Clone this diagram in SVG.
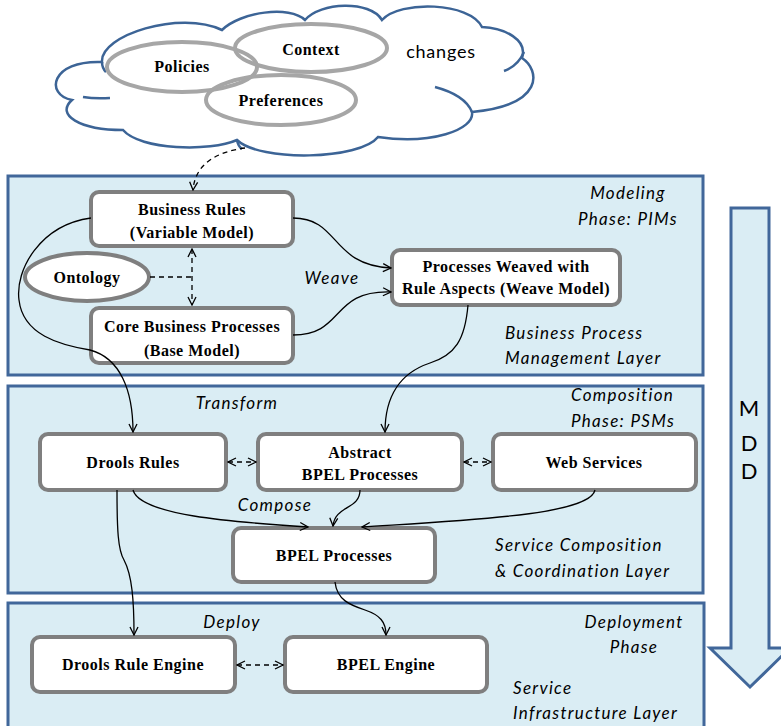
<svg xmlns="http://www.w3.org/2000/svg" width="781" height="726" viewBox="0 0 781 726">
<defs>
<marker id="ah" viewBox="0 0 10 10" refX="9" refY="5" markerWidth="10" markerHeight="10" markerUnits="userSpaceOnUse" orient="auto-start-reverse">
<path d="M1 1 L9 5 L1 9" fill="none" stroke="#000" stroke-width="1.3"/>
</marker>
<style>
.panel{fill:#daedf4;stroke:#41679a;stroke-width:3}
.node{fill:#fff;stroke:#7f7f7f;stroke-width:4}
.ell{fill:none;stroke:#a6a6a6;stroke-width:4}
.nt{font-family:"Liberation Serif",serif;font-weight:bold;font-size:16px;letter-spacing:0.5px;text-anchor:middle;fill:#000}
.lb{font-family:Lato,"Liberation Sans",sans-serif;font-style:italic;font-size:17px;letter-spacing:1.3px;fill:#000}
.cn{fill:none;stroke:#000;stroke-width:1.3}
.dash{stroke-dasharray:5 4}
</style>
</defs>
<rect width="781" height="726" fill="#fff"/>
<g id="cloud">
<path d="M102 62 C100 35 180 10 222 30 C240 12 290 5 305 20 C320 2 370 0 382 20 C400 0 470 2 482 27 C505 28 528 40 522 58 C540 70 545 105 472 112 C475 130 430 145 378 137 C360 160 260 162 237 140 C210 152 140 150 123 130 C80 130 55 115 72 100 C45 95 50 60 102 62 Z" fill="#fff" stroke="#3c6496" stroke-width="2.5"/>
<path d="M83 97 Q95 99 110 98 M524 52 Q518 66 504 71 M435 87 Q465 95 472 112 M237 140 Q238 146 242 149 M102 62 Q102 68 106 72" fill="none" stroke="#3c6496" stroke-width="2.5"/>
<text x="441" y="58" font-family="Lato,'Liberation Sans',sans-serif" font-size="18" letter-spacing="0.8" text-anchor="middle">changes</text>
</g>
<g id="policies"><ellipse class="ell" cx="182" cy="67" rx="75" ry="25"/><text class="nt" x="182" y="72">Policies</text></g>
<g id="context"><ellipse class="ell" cx="311" cy="48" rx="76" ry="24"/><text class="nt" x="311" y="55">Context</text></g>
<g id="preferences"><ellipse class="ell" cx="281" cy="100" rx="75" ry="25"/><text class="nt" x="281" y="106">Preferences</text></g>

<g id="panel-modeling"><rect class="panel" x="8" y="176" width="695" height="199"/>
<text class="lb" x="628" y="199" text-anchor="middle">Modeling</text>
<text class="lb" x="628" y="225" text-anchor="middle">Phase: PIMs</text>
<text class="lb" x="505" y="339">Business Process</text>
<text class="lb" x="505" y="364">Management Layer</text>
<text class="lb" x="332" y="284" text-anchor="middle">Weave</text>
</g>
<g id="panel-composition"><rect class="panel" x="8" y="386" width="695" height="207"/>
<text class="lb" x="571" y="401">Composition</text>
<text class="lb" x="571" y="427">Phase: PSMs</text>
<text class="lb" x="495" y="551">Service Composition</text>
<text class="lb" x="495" y="577">&amp; Coordination Layer</text>
<text class="lb" x="237" y="409" text-anchor="middle">Transform</text>
<text class="lb" x="275" y="511" text-anchor="middle">Compose</text>
</g>
<g id="panel-deployment"><rect class="panel" x="8" y="603" width="696" height="130"/>
<text class="lb" x="634" y="628" text-anchor="middle">Deployment</text>
<text class="lb" x="634" y="653" text-anchor="middle">Phase</text>
<text class="lb" x="513" y="694">Service</text>
<text class="lb" x="513" y="719">Infrastructure Layer</text>
<text class="lb" x="232" y="628" text-anchor="middle">Deploy</text>
</g>
<g id="mdd">
<path d="M731 208 L769 208 L769 648 L790 648 L750 687 L710 648 L731 648 Z" fill="#daedf4" stroke="#41679a" stroke-width="3"/>
<g font-family="Lato,'Liberation Sans',sans-serif" font-size="22" text-anchor="middle"><text x="749" y="416">M</text><text x="749" y="451">D</text><text x="749" y="479">D</text></g>
</g>

<g id="business-rules"><rect class="node" x="91" y="192" width="202" height="54" rx="8"/><text class="nt" x="192" y="215">Business Rules</text><text class="nt" x="192" y="238">(Variable Model)</text></g>
<g id="ontology"><ellipse cx="87" cy="277" rx="62" ry="24" fill="#fff" stroke="#7f7f7f" stroke-width="4"/><text class="nt" x="87" y="283">Ontology</text></g>
<g id="core-business"><rect class="node" x="91" y="308" width="202" height="55" rx="8"/><text class="nt" x="192" y="332">Core Business Processes</text><text class="nt" x="192" y="356">(Base Model)</text></g>
<g id="weave-model"><rect class="node" x="392" y="250" width="228" height="55" rx="8"/><text class="nt" x="506" y="272">Processes Weaved with</text><text class="nt" x="506" y="294">Rule Aspects (Weave Model)</text></g>
<g id="drools-rules"><rect class="node" x="40" y="434" width="186" height="56" rx="8"/><text class="nt" x="133" y="468">Drools Rules</text></g>
<g id="abstract-bpel"><rect class="node" x="258" y="434" width="204" height="56" rx="8"/><text class="nt" x="360" y="458">Abstract</text><text class="nt" x="360" y="480">BPEL Processes</text></g>
<g id="web-services"><rect class="node" x="493" y="434" width="203" height="56" rx="8"/><text class="nt" x="594" y="468">Web Services</text></g>
<g id="bpel-processes"><rect class="node" x="233" y="528" width="202" height="54" rx="8"/><text class="nt" x="334" y="561">BPEL Processes</text></g>
<g id="drools-engine"><rect class="node" x="32" y="637" width="203" height="55" rx="8"/><text class="nt" x="133" y="670">Drools Rule Engine</text></g>
<g id="bpel-engine"><rect class="node" x="285" y="637" width="202" height="55" rx="8"/><text class="nt" x="386" y="670">BPEL Engine</text></g>

<g id="connectors">
<path class="cn dash" d="M245 148 C215 152 195 165 193 190" marker-end="url(#ah)"/>
<path class="cn dash" d="M192 249 L192 305" marker-start="url(#ah)" marker-end="url(#ah)"/>
<path class="cn dash" d="M150 277 L192 277"/>
<path class="cn" d="M293 218 C340 218 330 265 391 268" marker-end="url(#ah)"/>
<path class="cn" d="M293 335 C345 335 330 290 391 292" marker-end="url(#ah)"/>
<path class="cn" d="M91 218 C40 225 15 270 19 300 C23 335 60 345 90 350 C120 358 133 390 133 432" marker-end="url(#ah)"/>
<path class="cn" d="M468 305 C465 340 455 355 430 363 C400 373 385 395 385 432" marker-end="url(#ah)"/>
<path class="cn dash" d="M228 462 L256 462" marker-start="url(#ah)" marker-end="url(#ah)"/>
<path class="cn dash" d="M464 462 L491 462" marker-start="url(#ah)" marker-end="url(#ah)"/>
<path class="cn" d="M133 490 C140 515 230 522 308 527" marker-end="url(#ah)"/>
<path class="cn" d="M360 490 C360 510 335 505 333 526" marker-end="url(#ah)"/>
<path class="cn" d="M595 490 C590 515 470 520 362 527" marker-end="url(#ah)"/>
<path class="cn" d="M117 490 C117 530 118 550 124 560 C132 575 134 600 134 635" marker-end="url(#ah)"/>
<path class="cn" d="M335 582 C337 600 350 605 365 610 C380 615 386 622 386 635" marker-end="url(#ah)"/>
<path class="cn dash" d="M237 665 L283 665" marker-start="url(#ah)" marker-end="url(#ah)"/>
</g>
</svg>
